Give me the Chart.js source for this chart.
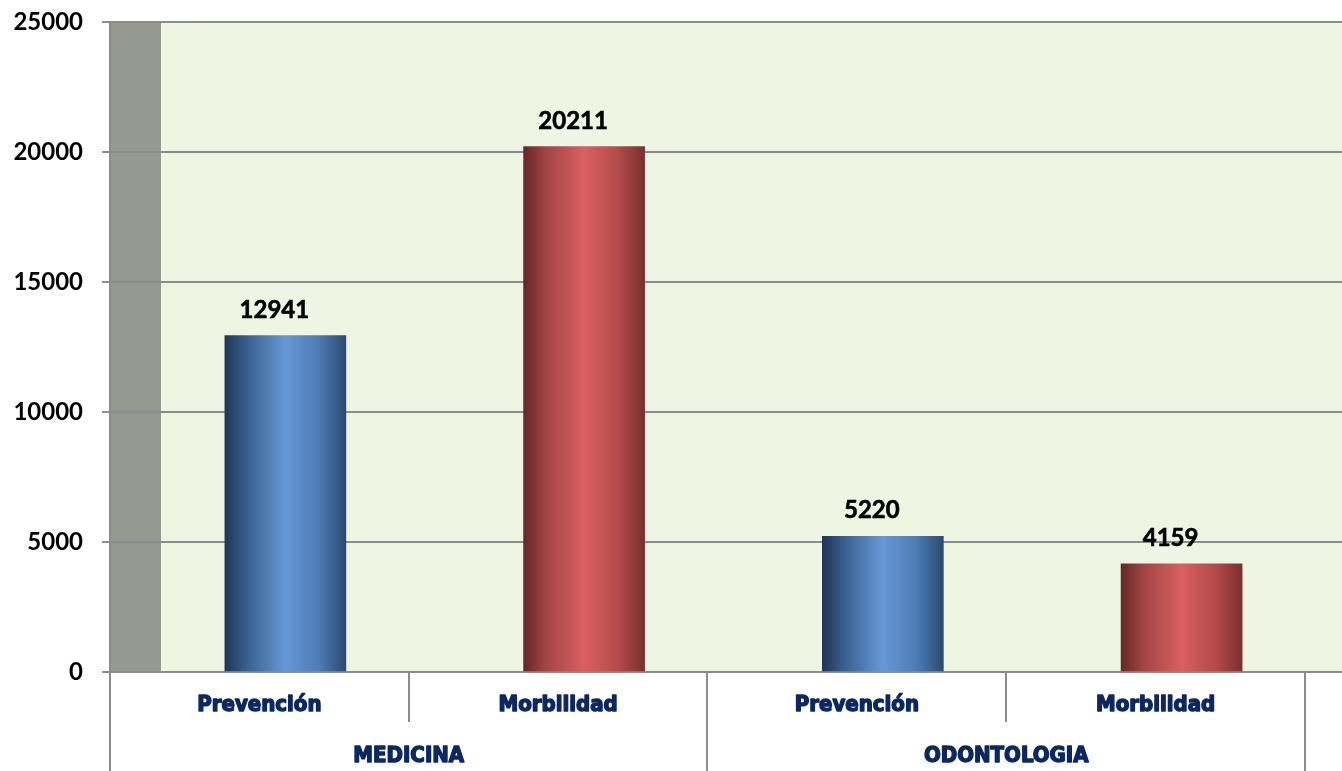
<!DOCTYPE html>
<html>
<head>
<meta charset="utf-8">
<script src="https://cdn.jsdelivr.net/npm/chart.js@4.4.1/dist/chart.umd.min.js"></script>
<style>
  html, body { margin: 0; padding: 0; background: #fff; }
  #wrap { width: 1342px; height: 771px; }
</style>
</head>
<body>
<div id="wrap"><canvas id="my-chart"></canvas></div>
<script>
'use strict';

// ************* Data **************
let groupLabels = ['MEDICINA', 'ODONTOLOGIA'];
let subLabels = ['Prevención', 'Morbilidad', 'Prevención', 'Morbilidad'];
let visitValues = [12941, 20211, 5220, 4159];
let yTickValues = [0, 5000, 10000, 15000, 20000, 25000];

// ************* Styles **************
let depthShift = 26;      // 3D depth offset of the bars
let wallWidth = 51;
let blueStops = ['#1f3556', '#3a5f8e', '#6698d7', '#4d7bb4', '#2c4a72'];
let redStops = ['#662626', '#a04444', '#da6060', '#b44a4a', '#7a2f2f'];
let catColor = '#0c2863';
let gridColor = '#8c8c8c';

// ************** Helpers *************
function barGradient(context){
  let chart = context.chart;
  if (!chart.chartArea || context.parsed === undefined) return blueStops[2];
  let stops = context.dataIndex % 2 === 0 ? blueStops : redStops;
  let cx = chart.scales.x.getPixelForValue(context.parsed.x);
  let half = 60.5;
  let g = chart.ctx.createLinearGradient(cx - half, 0, cx + half, 0);
  g.addColorStop(0, stops[0]);
  g.addColorStop(0.18, stops[1]);
  g.addColorStop(0.5, stops[2]);
  g.addColorStop(0.78, stops[3]);
  g.addColorStop(1, stops[4]);
  return g;
}

// ************** Plugins *************
let backgroundPlugin = {
  id: 'plotBackground',
  beforeDraw(chart){
    let {ctx, chartArea} = chart;
    ctx.save();
    ctx.fillStyle = '#eef5e3';
    ctx.fillRect(chartArea.left, chartArea.top, chartArea.right - chartArea.left, chartArea.bottom - chartArea.top);
    ctx.fillStyle = '#96998f';
    ctx.fillRect(chartArea.left, chartArea.top, wallWidth, chartArea.bottom - chartArea.top);
    ctx.restore();
  }
};

let depthPlugin = {
  id: 'barDepth',
  beforeDatasetsDraw(chart){
    chart.ctx.save();
    chart.ctx.translate(depthShift, 0);
  },
  afterDatasetsDraw(chart){
    let ctx = chart.ctx;
    let meta = chart.getDatasetMeta(0);
    ctx.font = 'bold 24px Lato, "Liberation Sans", sans-serif';
    ctx.fillStyle = '#000';
    ctx.strokeStyle = '#000';
    ctx.lineWidth = 0.6;
    ctx.textAlign = 'center';
    ctx.textBaseline = 'alphabetic';
    meta.data.forEach((bar, i) => {
      ctx.fillText(String(visitValues[i]), bar.x - 11, bar.y - 18);
      ctx.strokeText(String(visitValues[i]), bar.x - 11, bar.y - 18);
    });
    ctx.restore();
  }
};

let categoryAxisPlugin = {
  id: 'categoryAxis',
  afterDraw(chart){
    let {ctx, chartArea} = chart;
    let x = chart.scales.x;
    let bottom = chartArea.bottom;
    ctx.save();
    ctx.strokeStyle = gridColor;
    ctx.lineWidth = 2;
    // dividers between sub categories
    [0.5, 2.5].forEach(v => {
      let px = Math.round(x.getPixelForValue(v));
      ctx.beginPath();
      ctx.moveTo(px, bottom);
      ctx.lineTo(px, bottom + 50);
      ctx.stroke();
    });
    // dividers between groups
    [-0.5, 1.5, 3.5].forEach(v => {
      let px = Math.round(x.getPixelForValue(v));
      ctx.beginPath();
      ctx.moveTo(px, bottom);
      ctx.lineTo(px, chart.height);
      ctx.stroke();
    });

    ctx.fillStyle = catColor;
    ctx.strokeStyle = catColor;
    ctx.lineWidth = 1.4;
    ctx.lineJoin = 'round';
    ctx.textAlign = 'center';
    ctx.textBaseline = 'middle';
    ctx.font = 'bold 22px "DejaVu Sans Condensed", "DejaVu Sans", sans-serif';
    subLabels.forEach((label, i) => {
      let px = x.getPixelForValue(i);
      ctx.fillText(label, px, bottom + 33);
      ctx.strokeText(label, px, bottom + 33);
    });
    groupLabels.forEach((label, g) => {
      let px = x.getPixelForValue(g * 2 + 0.5);
      ctx.fillText(label, px, bottom + 84);
      ctx.strokeText(label, px, bottom + 84);
    });
    ctx.restore();
  }
};

// ***************** Chart *********************
let canvasElem = document.getElementById('my-chart');

let myObj = {
  type: 'bar',
  data: {
    datasets: [{
      data: visitValues.map((v, i) => ({x: i, y: v})),
      backgroundColor: barGradient,
      borderWidth: 0,
      barThickness: 121
    }]
  },
  options: {
    responsive: true,
    maintainAspectRatio: false,
    animation: false,
    layout: {
      padding: {top: 22, right: 0, bottom: 99, left: 0}
    },
    plugins: {
      legend: {display: false},
      tooltip: {enabled: false}
    },
    scales: {
      x: {
        type: 'linear',
        display: false,
        offset: false,
        min: -0.5,
        max: 3.624
      },
      y: {
        min: 0,
        max: 25000,
        afterBuildTicks: scale => {
          scale.ticks = yTickValues.map(v => ({value: v}));
        },
        afterFit: scale => {
          scale.width = 110;
          scale.paddingTop = 0;
          scale.paddingBottom = 0;
        },
        ticks: {
          color: '#000',
          padding: 19,
          callback: value => String(value),
          font: {family: 'Lato, "Liberation Sans", sans-serif', size: 24, weight: 'bold'}
        },
        grid: {
          color: gridColor,
          lineWidth: 2,
          tickLength: 8
        },
        border: {
          color: gridColor,
          width: 2
        }
      }
    }
  },
  plugins: [backgroundPlugin, depthPlugin, categoryAxisPlugin]
};

new Chart(canvasElem, myObj);
</script>
</body>
</html>
